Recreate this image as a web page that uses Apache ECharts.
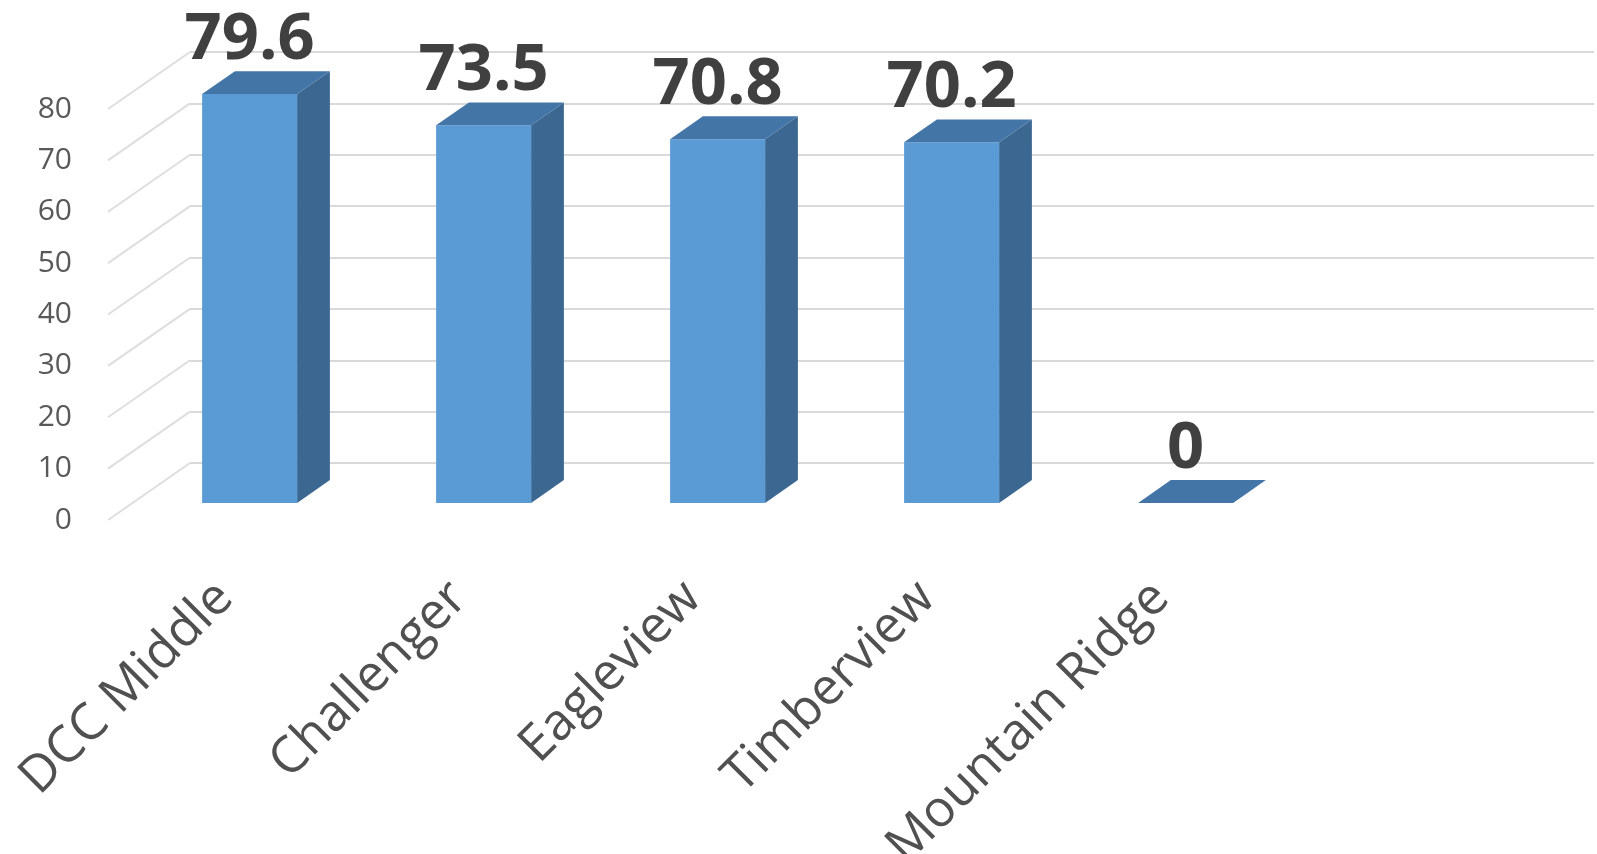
<!DOCTYPE html>
<html>
<head>
<meta charset="utf-8">
<script src="https://cdn.jsdelivr.net/npm/echarts@6/dist/echarts.min.js"></script>
<style>
  html, body { margin: 0; padding: 0; background: #ffffff; }
  #chart { width: 1597px; height: 854px; }
</style>
</head>
<body>
<div id="chart"></div>
<script>
// ---- data ----
const categories = ['DCC Middle', 'Challenger', 'Eagleview', 'Timberview', 'Mountain Ridge'];
const values = [79.6, 73.5, 70.8, 70.2, 0];
const yTicks = [0, 10, 20, 30, 40, 50, 60, 70, 80];

// ---- layout (3D oblique projection) ----
const FONT = '"Open Sans", "Liberation Sans", sans-serif';
const axisCats = categories.concat(['']);   // empty slot at right, as in the original plot area
const WALL_DX = 82, WALL_DY = -57;            // full depth offset (front plane -> back wall)
const BAR_DX = 32.8, BAR_DY = -22.8;          // bar depth offset
const PLOT_W = 1404, PLOT_H = 411;

const chart = echarts.init(document.getElementById('chart'), null, { renderer: 'canvas' });

function renderBar(params, api) {
  const i = api.value(0), v = api.value(1);
  const p0 = api.coord([i, 0]);
  const p1 = api.coord([i, v]);
  const band = api.size([1, 0])[0];
  const w = band * 0.406;
  const xl = p0[0] - w / 2, xr = p0[0] + w / 2;
  const yb = p0[1], yt = p1[1];
  const children = [];
  if (yb - yt > 0.5) {
    children.push({
      type: 'polygon',
      shape: { points: [[xr, yt], [xr + BAR_DX, yt + BAR_DY], [xr + BAR_DX, yb + BAR_DY], [xr, yb]] },
      style: { fill: '#3B6791' }
    });
    children.push({
      type: 'polygon',
      shape: { points: [[xl, yt], [xr, yt], [xr, yb], [xl, yb]] },
      style: { fill: '#5B9BD5' }
    });
  }
  children.push({
    type: 'polygon',
    shape: { points: [[xl, yt], [xl + BAR_DX, yt + BAR_DY], [xr + BAR_DX, yt + BAR_DY], [xr, yt]] },
    style: { fill: '#4475A7' }
  });
  children.push({
    type: 'text',
    style: {
      text: String(v),
      x: p0[0],
      y: yt - 21,
      align: 'center',
      verticalAlign: 'bottom',
      font: 'bold 65px ' + FONT,
      fill: '#404040'
    }
  });
  return { type: 'group', children: children };
}

function renderDiag(params, api) {
  const v = api.value(1);
  const p = api.coord([0, v]);
  const x0 = params.coordSys.x;
  return {
    type: 'line',
    shape: { x1: x0, y1: p[1], x2: x0 + WALL_DX, y2: p[1] + WALL_DY },
    style: { stroke: '#dedede', lineWidth: 2 }
  };
}

const hiddenCat = (gi) => ({
  type: 'category', gridIndex: gi, data: axisCats, boundaryGap: true,
  axisLine: { show: false }, axisTick: { show: false }, axisLabel: { show: false }, splitLine: { show: false }
});
const hiddenVal = (gi) => ({
  type: 'value', gridIndex: gi, min: 0, max: 80, interval: 10,
  axisLine: { show: false }, axisTick: { show: false }, axisLabel: { show: false }, splitLine: { show: false }
});

const option = {
  backgroundColor: '#ffffff',
  animation: false,
  grid: [
    // 0: front edge of the side wall (depth 0)
    { left: 108, top: 109, width: PLOT_W, height: PLOT_H, containLabel: false, outerBoundsMode: 'none' },
    // 1: front plane of the bars (depth 0.3)
    { left: 108 + 0.3 * WALL_DX, top: 109 + 0.3 * WALL_DY, width: PLOT_W, height: PLOT_H, containLabel: false, outerBoundsMode: 'none' },
    // 2: back wall (depth 1)
    { left: 108 + WALL_DX, top: 109 + WALL_DY, width: PLOT_W, height: PLOT_H, containLabel: false, outerBoundsMode: 'none' }
  ],
  xAxis: [
    {
      type: 'category', gridIndex: 0, data: axisCats, boundaryGap: true,
      axisLine: { show: false }, axisTick: { show: false }, splitLine: { show: false },
      axisLabel: {
        interval: 0, rotate: 45, margin: 70,
        fontFamily: FONT, fontSize: 51, color: '#505050'
      }
    },
    hiddenCat(1),
    hiddenCat(2)
  ],
  yAxis: [
    {
      type: 'value', gridIndex: 0, min: 0, max: 80, interval: 10,
      axisLine: { show: false }, axisTick: { show: false }, splitLine: { show: false },
      axisLabel: { margin: 36, fontFamily: FONT, fontSize: 30, color: '#595959' }
    },
    hiddenVal(1),
    {
      type: 'value', gridIndex: 2, min: 0, max: 80, interval: 10,
      axisLine: { show: false }, axisTick: { show: false }, axisLabel: { show: false },
      splitLine: { show: true, lineStyle: { color: '#d9d9d9', width: 2 } }
    }
  ],
  series: [
    {
      type: 'custom', xAxisIndex: 0, yAxisIndex: 0,
      renderItem: renderDiag,
      data: yTicks.map(v => [0, v]),
      silent: true, z: 1
    },
    {
      type: 'custom', xAxisIndex: 1, yAxisIndex: 1,
      renderItem: renderBar,
      data: values.map((v, i) => [i, v]),
      z: 3
    }
  ]
};

chart.setOption(option);
</script>
</body>
</html>
